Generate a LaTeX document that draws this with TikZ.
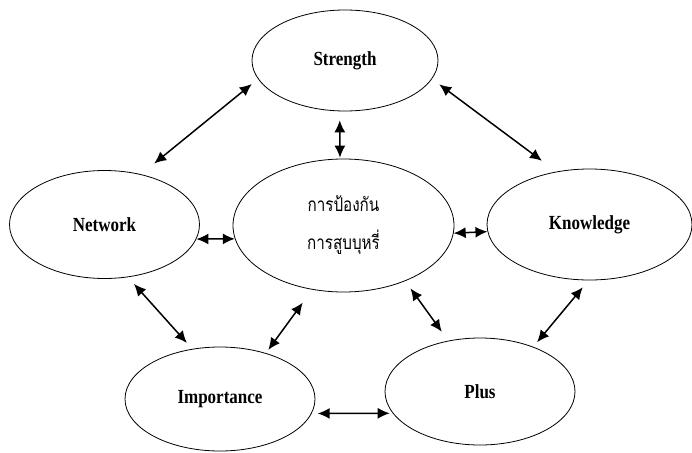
\documentclass[tikz,border=0pt]{standalone}
\usepackage{fontspec}
\usepackage{tikz}
\usetikzlibrary{shapes.geometric,arrows.meta}
\newfontfamily\labelfont[FakeStretch=0.85]{Liberation Serif}
\newfontfamily\thaifont[Script=Thai,FakeStretch=0.8]{Loma}

\begin{document}
\begin{tikzpicture}
        [
        x=1pt, y=-1pt,
        align=center,
        bubble/.style={ellipse, draw=black, line width=0.8pt, inner sep=0pt,
                font=\labelfont\bfseries\fontsize{20}{22}\selectfont},
        core/.style={bubble, font=\thaifont\fontsize{19}{38}\selectfont},
        conn/.style={line width=1.5pt, {Latex[length=12pt,width=11pt]}-{Latex[length=12pt,width=11pt]}},
        ]
                \useasboundingbox (0,0) rectangle (692,452);

                % center
                \node[core, minimum width=221pt, minimum height=133pt] (core) at (343.5,225.5) {การป้องกัน\\การสูบบุหรี่};

                % outer ring
                \node[bubble, minimum width=186pt, minimum height=101pt] (str)  at (345.0, 60.5) {Strength};
                \node[bubble, minimum width=190pt, minimum height=108pt] (net)  at (104.5,224.5) {Network};
                \node[bubble, minimum width=205pt, minimum height=111pt] (know) at (589.5,224.5) {Knowledge};
                \node[bubble, minimum width=190pt, minimum height=104pt] (imp)  at (220.0,399.0) {Importance};
                \node[bubble, minimum width=190pt, minimum height=107pt] (plus) at (480.0,391.5) {Plus};

                % drawing code
                \foreach \from/\to/\a/\b in {str.192/net.54/8/17, str.348/know.122/9/18, str.264/core.93/9/1,
                        net.351/core.187/0/0, core.356/know.184/0/0, net.294/imp.119/9/8,
                        core.244/imp.45/16/4, core.318/plus.122/9/11, know.269/plus.40/9/6,
                        imp.351/plus.194/6/3}
                        \draw[conn, shorten <=\a pt, shorten >=\b pt] (\from) -- (\to);
        \end{tikzpicture}
\end{document}
